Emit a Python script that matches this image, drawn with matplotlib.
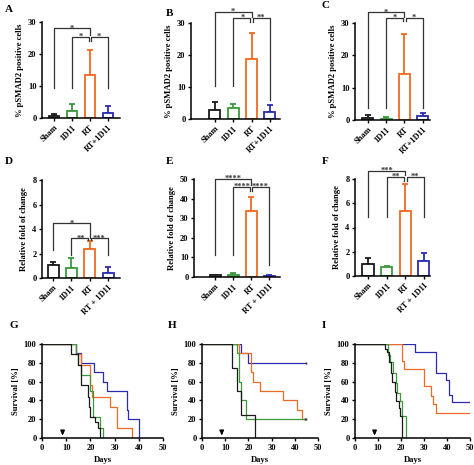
import matplotlib
matplotlib.use('Agg')
import matplotlib.pyplot as plt
import numpy as np

plt.rcParams['font.family'] = ['Liberation Serif', 'DejaVu Serif']
plt.rcParams['font.weight'] = 'bold'
plt.rcParams['axes.labelweight'] = 'bold'

W, H = 474, 465

# bar chart data
groups_abc = ['Sham', '1D11', 'RT', 'RT+1D11']
groups_def = ['Sham', '1D11', 'RT', 'RT + 1D11']
bar_colors = ['#1a1a1a', '#3a9a3a', '#f26a21', '#2b2bb0']

a_mean = [0.5, 2.3, 13.3, 1.7]
a_err = [0.7, 2.0, 7.9, 2.0]
b_mean = [2.8, 3.3, 18.7, 2.3]
b_err = [2.4, 1.5, 8.3, 2.2]
c_mean = [0.7, 0.3, 14.3, 1.1]
c_err = [0.7, 0.7, 12.2, 1.0]
d_mean = [1.04, 0.82, 2.4, 0.44]
d_err = [0.28, 0.82, 0.6, 0.46]
e_mean = [0.8, 1.1, 33.8, 0.6]
e_err = [0.4, 0.7, 7.1, 0.4]
f_mean = [0.95, 0.72, 5.37, 1.22]
f_err = [0.55, 0.08, 2.2, 0.65]

# comparisons: (group i, group j, bracket height, label, leg end i, leg end j)
a_comp = [(0, 2, 28.0, '*', 9.3, 25.8), (1, 2, 25.4, '*', 9.3, 24.2), (2, 3, 25.4, '*', 24.2, 9.3)]
b_comp = [(0, 2, 33.4, '*', 10.3, 31.8), (1, 2, 31.5, '*', 10.3, 30.3), (2, 3, 31.5, '**', 30.3, 6.0)]
c_comp = [(0, 2, 33.3, '*', 3.7, 31.8), (1, 2, 31.5, '*', 3.7, 30.5), (2, 3, 31.5, '*', 30.5, 3.7)]
d_comp = [(0, 2, 4.46, '*', 2.3, 3.3), (1, 2, 3.24, '**', 1.9, 3.1), (2, 3, 3.24, '***', 3.1, 1.9)]
e_comp = [(0, 2, 50.0, '****', 11.0, 47.0), (1, 2, 46.0, '****', 11.0, 44.0), (2, 3, 46.0, '****', 44.0, 6.0)]
f_comp = [(0, 2, 8.7, '***', 4.9, 8.3), (1, 2, 8.2, '**', 4.9, 7.8), (2, 3, 8.2, '**', 7.8, 4.9)]

# survival data (days, % surviving)
g_black = ([0, 12, 15, 16, 19, 19.5, 20, 22, 23, 24], [100, 89, 78, 56, 44, 33, 22, 17, 11, 0])
g_green = ([0, 14, 15, 16, 20, 21, 24, 25], [100, 89, 78, 67, 50, 22, 11, 0])
g_orange = ([0, 14, 16, 20, 20.5, 28, 31, 37], [100, 89, 78, 56, 44, 33, 11, 0])
g_blue = ([0, 14, 16, 21.5, 25, 27, 35, 35.5, 40], [100, 90, 80, 70, 60, 50, 30, 20, 0])

h_black = ([0, 13, 15, 17, 23], [100, 75, 50, 25, 0])
h_green = ([0, 15, 16, 17, 19, 45], [100, 90, 60, 40, 20, 20])
h_orange = ([0, 16, 21, 22, 25, 35, 41, 43, 44.5], [100, 90, 70, 60, 50, 40, 30, 20, 20])
h_blue = ([0, 17, 20, 45], [100, 90, 80, 80])

i_black = ([0, 13.2, 14, 14.8, 15.5, 16.2, 17.2, 18, 19, 19.6, 20.4], [100, 95, 91, 81, 69, 60, 49, 39, 32, 23, 0])
i_green = ([0, 14.3, 15.4, 16.5, 17.7, 18.4, 19.4, 20.4, 22.3], [100, 88, 81, 69, 58, 48, 39, 23, 0])
i_orange = ([0, 20.5, 21.5, 30, 33, 34, 35, 50], [100, 82, 73, 55, 45, 36, 27, 27])
i_blue = ([0, 26, 35, 39.5, 41, 42, 50], [100, 92, 69, 62, 46, 38, 38])

treat_day = 8.5


def px_axes(fig, left, top, right, bottom):
    return fig.add_axes([left / W, 1 - bottom / H, (right - left) / W, (bottom - top) / H])


def style(ax):
    for s in ['top', 'right']:
        ax.spines[s].set_visible(False)
    for s in ['left', 'bottom']:
        ax.spines[s].set_linewidth(1.1)
    ax.tick_params(length=2.5, width=1, labelsize=6, pad=1.5)


def bar_panel(ax, means, errs, labels, yticks, ylabel, comps, xlim):
    x = np.arange(len(means))
    ax.bar(x, means, width=0.6, color='white', edgecolor=bar_colors, linewidth=1.3, zorder=2)
    for xi, m, e, c in zip(x, means, errs, bar_colors):
        ax.errorbar(xi, m, yerr=[[0], [e]], fmt='none', ecolor=c, elinewidth=1.3,
                    capsize=2.5, capthick=1.3, zorder=1)
    for i, j, y, lab, bi, bj in comps:
        xi = i + (0.07 if i == 2 else 0)
        xj = j - (0.07 if (j == 2 and i != 0) else 0)
        ax.plot([xi, xi, xj, xj], [bi, y, y, bj], color='#333333', lw=0.9, clip_on=False)
        ax.annotate(lab, xy=((i + j) / 2, y), xytext=(0, -1.5), textcoords='offset points',
                    ha='center', va='baseline', fontsize=6, color='#333333', annotation_clip=False)
    ax.set_xlim(*xlim)
    ax.set_ylim(yticks[0], yticks[-1])
    ax.set_yticks(yticks)
    ax.set_xticks(x)
    ax.set_xticklabels(labels, rotation=45, ha='right', rotation_mode='anchor', fontsize=6.3)
    ax.set_ylabel(ylabel, fontsize=6.2, labelpad=3)
    style(ax)


def surv_panel(ax, curves):
    for (days, surv), c in curves:
        ax.step(days, surv, where='post', color=c, lw=0.9)
    ax.set_xlim(0, 50)
    ax.set_ylim(0, 100)
    ax.set_xticks(range(0, 51, 10))
    ax.set_yticks(range(0, 101, 20))
    ax.annotate('', xy=(treat_day, 0), xytext=(treat_day, 9),
                arrowprops=dict(arrowstyle='-|>', color='black', lw=1.1, mutation_scale=6))
    ax.set_ylabel('Survival [%]', fontsize=6.2, labelpad=3)
    ax.set_xlabel('Days', fontsize=6.2, labelpad=3)
    style(ax)


fig = plt.figure(figsize=(4.74, 4.65), dpi=100)

ax = px_axes(fig, 42, 22, 120, 118)
bar_panel(ax, a_mean, a_err, groups_abc, [0, 10, 20, 30], '% pSMAD2 positive cells', a_comp, (-0.67, 3.67))
ax = px_axes(fig, 191, 23, 280, 119)
bar_panel(ax, b_mean, b_err, groups_abc, [0, 10, 20, 30], '% pSMAD2 positive cells', b_comp, (-1.3, 3.55))
ax = px_axes(fig, 355, 23, 430, 120)
bar_panel(ax, c_mean, c_err, groups_abc, [0, 10, 20, 30], '% pSMAD2 positive cells', c_comp, (-0.7, 3.4))

ax = px_axes(fig, 42, 180, 120, 278)
bar_panel(ax, d_mean, d_err, groups_def, [0, 2, 4, 6, 8], 'Relative fold of change', d_comp, (-0.6, 3.65))
ax = px_axes(fig, 194, 179, 280, 277)
bar_panel(ax, e_mean, e_err, groups_def, [0, 10, 20, 30, 40, 50], 'Relative fold of change', e_comp, (-1.17, 3.6))
ax = px_axes(fig, 355, 179, 430, 276)
bar_panel(ax, f_mean, f_err, groups_def, [0, 2, 4, 6, 8], 'Relative fold of change', f_comp, (-0.7, 3.33))

ax = px_axes(fig, 42, 344, 163, 438)
surv_panel(ax, [(g_blue, bar_colors[3]), (g_orange, bar_colors[2]), (g_green, bar_colors[1]), (g_black, bar_colors[0])])
ax = px_axes(fig, 202, 344, 318, 438)
surv_panel(ax, [(h_blue, bar_colors[3]), (h_orange, bar_colors[2]), (h_green, bar_colors[1]), (h_black, bar_colors[0])])
ax.plot([45, 44.5, 45], [80, 20, 20], ls='none', marker='|', ms=2, color='#333333')
ax = px_axes(fig, 355, 344, 470, 438)
surv_panel(ax, [(i_blue, bar_colors[3]), (i_orange, bar_colors[2]), (i_green, bar_colors[1]), (i_black, bar_colors[0])])

for lab, x, y in [('A', 5, 9), ('B', 166, 14), ('C', 322, 6), ('D', 5, 162), ('E', 166, 162),
                  ('F', 322, 162), ('G', 10, 325), ('H', 168, 325), ('I', 322, 325)]:
    fig.text(x / W, 1 - y / H, lab, fontsize=8, fontweight='bold', va='center', ha='left')

fig.savefig('out.png', dpi=100)
